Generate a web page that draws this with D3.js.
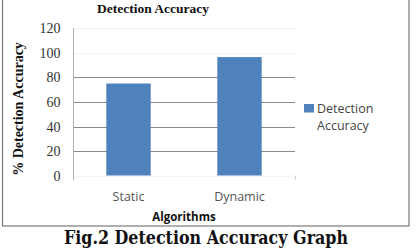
<!DOCTYPE html>
<html>
<head>
<meta charset="utf-8">
<title>Detection Accuracy</title>
<style>
  body { margin: 0; background: #fff; }
</style>
</head>
<body>
<div id="chart"></div>
<script src="https://cdn.jsdelivr.net/npm/d3@7"></script>
<script>
var categories = ["Static", "Dynamic"];
var accuracy = [75, 96.5];
var yTicks = [0, 20, 40, 60, 80, 100, 120];
var seriesName = "Detection Accuracy";

var W = 417, H = 248;
var serif = "'Liberation Serif', 'DejaVu Serif', serif";
var sans = "'Open Sans', 'DejaVu Sans', sans-serif";

var svg = d3.select("#chart").append("svg")
    .attr("width", W)
    .attr("height", H);

svg.append("rect").attr("width", W).attr("height", H).attr("fill", "#fff");

// chart frame (top edge sits above the picture)
svg.append("rect")
    .attr("x", 2.5).attr("y", -5)
    .attr("width", 406.5).attr("height", 231)
    .attr("fill", "none")
    .attr("stroke", "#7a7a7a")
    .attr("stroke-width", 1.2);

var plot = { left: 73, right: 295, top: 28.2, bottom: 175.7 };

var x = d3.scaleBand()
    .domain(categories)
    .range([plot.left, plot.right])
    .paddingInner(0.6)
    .paddingOuter(0.3);

var y = d3.scaleLinear()
    .domain([0, 120])
    .range([plot.bottom, plot.top]);

// gridlines
svg.append("g").selectAll("line")
    .data(yTicks)
    .enter().append("line")
        .attr("x1", plot.left).attr("x2", plot.right)
        .attr("y1", function(d) { return Math.round(y(d)) + 0.5; })
        .attr("y2", function(d) { return Math.round(y(d)) + 0.5; })
        .attr("stroke", function(d) { return (d > 0 && d <= 80) ? "#8a8a8a" : "#f2f2f2"; })
        .attr("stroke-width", 1);

// bars
svg.selectAll(".bar")
    .data(accuracy)
    .enter().append("rect")
        .attr("class", "bar")
        .attr("x", function(d, i) { return x(categories[i]); })
        .attr("width", x.bandwidth())
        .attr("y", function(d) { return y(d); })
        .attr("height", function(d) { return y(0) - y(d); })
        .attr("fill", "#4f81bd");

// y axis
var yAxis = svg.append("g")
    .attr("transform", "translate(" + (plot.left + 0.5) + ",0)")
    .call(d3.axisLeft(y).tickValues(yTicks).tickSize(0).tickPadding(13));
yAxis.attr("font-family", serif).attr("font-size", 14);
yAxis.select(".domain").remove();
yAxis.append("line")
    .attr("y1", plot.top).attr("y2", plot.bottom + 4.5)
    .attr("stroke", "#b0b0b0");
yAxis.selectAll("text").attr("fill", "#333");

// x axis
var xAxis = svg.append("g")
    .attr("transform", "translate(0," + plot.bottom + ")")
    .call(d3.axisBottom(x).tickSize(0).tickPadding(16));
xAxis.attr("font-family", sans).attr("font-size", 12.5);
xAxis.select(".domain").attr("stroke", "#f4f4f4");
xAxis.append("line")
    .attr("x1", plot.right + 0.5).attr("x2", plot.right + 0.5)
    .attr("y1", 0).attr("y2", 4)
    .attr("stroke", "#cfcfcf");
xAxis.selectAll("text").attr("fill", "#555");

// title
svg.append("text")
    .attr("x", 153).attr("y", 12.5)
    .attr("text-anchor", "middle")
    .attr("font-family", serif)
    .attr("font-weight", "bold")
    .attr("font-size", 13.5)
    .attr("fill", "#111")
    .text("Detection Accuracy");

// y title
svg.append("text")
    .attr("transform", "translate(23,109) rotate(-90)")
    .attr("text-anchor", "middle")
    .attr("font-family", serif)
    .attr("font-weight", "bold")
    .attr("font-size", 14)
    .attr("fill", "#111")
    .text("% Detection Accuracy");

// x title
svg.append("text")
    .attr("x", 184).attr("y", 221)
    .attr("text-anchor", "middle")
    .attr("font-family", sans)
    .attr("font-weight", "bold")
    .attr("font-size", 11.5)
    .attr("fill", "#111")
    .text("Algorithms");

// legend
var legend = svg.append("g").attr("transform", "translate(304,104)");
legend.append("rect")
    .attr("width", 10).attr("height", 8.5)
    .attr("fill", "#4f81bd");
legend.append("text")
    .attr("font-family", sans)
    .attr("font-size", 12.5)
    .attr("fill", "#444")
    .selectAll("tspan")
    .data(seriesName.split(" "))
    .enter().append("tspan")
        .attr("x", 13)
        .attr("y", function(d, i) { return 8.5 + i * 17.5; })
        .text(function(d) { return d; });

// caption
svg.append("text")
    .attr("x", 206).attr("y", 244)
    .attr("text-anchor", "middle")
    .attr("font-family", "'DejaVu Serif', 'Liberation Serif', serif")
    .attr("font-weight", "bold")
    .attr("font-size", 18.5)
    .attr("textLength", 284)
    .attr("lengthAdjust", "spacingAndGlyphs")
    .attr("fill", "#111")
    .text("Fig.2 Detection Accuracy Graph");
</script>
</body>
</html>
